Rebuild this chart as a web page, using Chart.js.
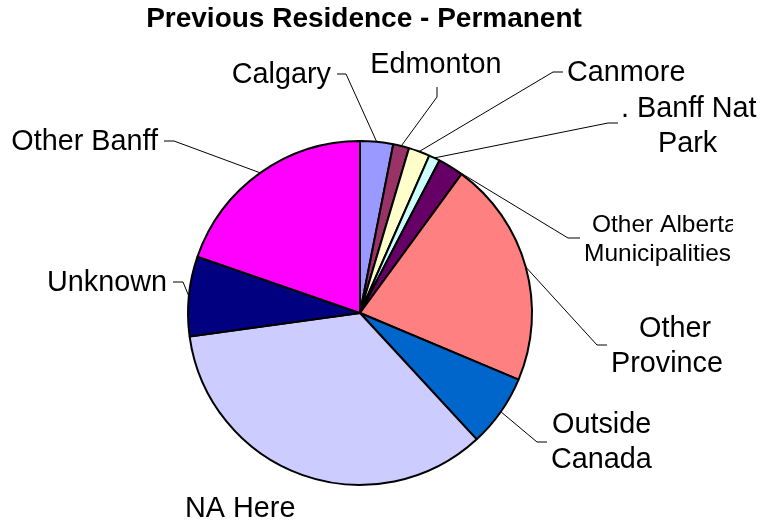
<!DOCTYPE html>
<html>
<head>
<meta charset="utf-8">
<script src="https://cdn.jsdelivr.net/npm/chart.js@4/dist/chart.umd.min.js"></script>
<style>
  html, body { margin: 0; padding: 0; background: #fff; }
  #wrap { width: 763px; height: 524px; position: relative; }
</style>
</head>
<body>
<div id="wrap"><canvas id="myChart" width="763" height="524"></canvas></div>
<script>
  // dados (percentual aproximado de cada fatia)
  const categories = ['Calgary', 'Edmonton', 'Canmore', '. Banff Nat Park', 'Other Alberta Municipalities',
    'Other Province', 'Outside Canada', 'NA Here', 'Unknown', 'Other Banff'];
  const values = [3.1, 1.5, 2.0, 1.05, 2.4, 21.3, 6.8, 34.7, 7.5, 19.7];
  const colors = ['#9999FF', '#993366', '#FFFFCC', '#CCFFFF', '#660066',
    '#FF8080', '#0066CC', '#CCCCFF', '#000080', '#FF00FF'];
  const titleText = 'Previous Residence - Permanent';

  // posição dos rótulos (texto + linha guia) para cada fatia
  const labelLayout = [
    { lines: [['Calgary', 331, 83, 'right']], elbow: [346, 74], end: [337, 74] },
    { lines: [['Edmonton', 436, 73, 'center']], elbow: [437, 97], end: [437, 87] },
    { lines: [['Canmore', 567, 81, 'left']], elbow: [553, 72], end: [563, 72] },
    { lines: [['. Banff Nat', 621, 117, 'left'], ['Park', 658, 152, 'left']], elbow: [608, 123], end: [618, 123] },
    { lines: [['Other Alberta', 592, 232, 'left'], ['Municipalities', 584, 261, 'left']], elbow: [568, 238], end: [580, 238], size: 24.5, clip: 733 },
    { lines: [['Other', 639, 337, 'left'], ['Province', 611, 372, 'left']], elbow: [597, 345], end: [607, 345] },
    { lines: [['Outside', 552, 433, 'left'], ['Canada', 551, 468, 'left']], elbow: [537, 442], end: [547, 442] },
    { lines: [['NA Here', 185, 517, 'left']] },
    { lines: [['Unknown', 167, 291, 'right']], elbow: [183, 282], end: [173, 282] },
    { lines: [['Other Banff', 158, 150, 'right']], elbow: [174, 141], end: [164, 141] }
  ];

  const labelsPlugin = {
    id: 'labelsPlugin',
    afterDraw(chart) {
      const ctx = chart.ctx;
      const meta = chart.getDatasetMeta(0);
      ctx.save();
      ctx.fillStyle = '#000';
      ctx.textBaseline = 'alphabetic';
      ctx.font = 'bold 28px Arial, "Liberation Sans", sans-serif';
      ctx.textAlign = 'center';
      ctx.fillText(titleText, 364, 27);

      meta.data.forEach((arc, i) => {
        const lay = labelLayout[i];
        if (!lay) return;
        const p = arc.getProps(['x', 'y', 'startAngle', 'endAngle', 'outerRadius'], true);
        const mid = (p.startAngle + p.endAngle) / 2;
        const px = p.x + Math.cos(mid) * p.outerRadius;
        const py = p.y + Math.sin(mid) * p.outerRadius;
        if (lay.elbow) {
          ctx.strokeStyle = '#000';
          ctx.lineWidth = 1;
          ctx.beginPath();
          ctx.moveTo(px, py);
          ctx.lineTo(lay.elbow[0], lay.elbow[1]);
          ctx.lineTo(lay.end[0], lay.end[1]);
          ctx.stroke();
        }
        ctx.save();
        if (lay.clip) {
          ctx.beginPath();
          ctx.rect(0, 0, lay.clip, chart.height);
          ctx.clip();
        }
        ctx.font = (lay.size || 28.8) + 'px Arial, "Liberation Sans", sans-serif';
        lay.lines.forEach(l => {
          ctx.textAlign = l[3];
          ctx.fillText(l[0], l[1], l[2]);
        });
        ctx.restore();
      });
      ctx.restore();
    }
  };

  const ctx = document.getElementById('myChart').getContext('2d');
  new Chart(ctx, {
    type: 'pie',
    data: {
      labels: categories,
      datasets: [{
        data: values,
        backgroundColor: colors,
        borderColor: '#000',
        borderWidth: 2
      }]
    },
    options: {
      responsive: false,
      animation: false,
      layout: { padding: { top: 140, bottom: 38, left: 187, right: 230 } },
      plugins: {
        legend: { display: false },
        tooltip: { enabled: false },
        title: { display: false }
      }
    },
    plugins: [labelsPlugin]
  });
</script>
</body>
</html>
